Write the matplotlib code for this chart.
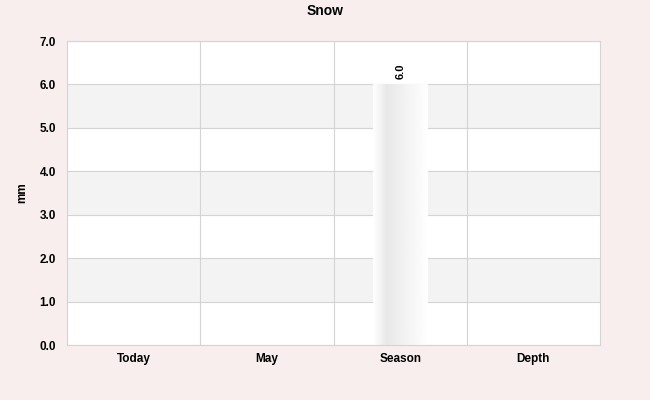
import numpy as np
import matplotlib
matplotlib.use("Agg")
import matplotlib.pyplot as plt

plt.rcParams["font.family"] = ["Liberation Sans", "DejaVu Sans"]

categories = ["Today", "May", "Season", "Depth"]
values = [0.0, 0.0, 6.0, 0.0]
y_ticks = [0.0, 1.0, 2.0, 3.0, 4.0, 5.0, 6.0, 7.0]

bg = "#f7eeed"
grid_c = "#d4d4d4"
band_c = "#f3f3f3"

fig = plt.figure(figsize=(6.5, 4.0), dpi=100, facecolor=bg)
ax = fig.add_axes([67 / 650, 55 / 400, 533 / 650, 304 / 400])
ax.set_facecolor("white")

x = np.arange(len(categories))

# alternating bands
for i in range(len(y_ticks) - 1):
    if i % 2 == 1:
        ax.axhspan(y_ticks[i], y_ticks[i + 1], color=band_c, zorder=0, lw=0)
for yv in y_ticks:
    ax.axhline(yv, color=grid_c, lw=0.8, zorder=1)
for xv in x[:-1] + 0.5:
    ax.axvline(xv, color=grid_c, lw=0.8, zorder=1)

# bars with horizontal gradient fill
width = 0.41
bars = ax.bar(x, values, width=width, color="none", edgecolor="none", zorder=2)
pos = np.linspace(0, 1, 200)
shade = np.interp(pos, [0, 0.25, 1], [1.0, 0.91, 1.0])
grad = np.tile(shade, (2, 1))
for b, v in zip(bars, values):
    if v <= 0:
        continue
    im = ax.imshow(grad, cmap="gray", vmin=0, vmax=1, aspect="auto",
                   extent=(b.get_x(), b.get_x() + b.get_width(), 0, v),
                   zorder=2, interpolation="bilinear")
    im.set_clip_path(b)
    ax.annotate(f"{v:.1f}", (b.get_x() + b.get_width() / 2, v),
                xytext=(0, 4), textcoords="offset points", rotation=90,
                ha="center", va="bottom", fontsize=8, fontweight="bold")
ax.set_xlim(-0.5, len(categories) - 0.5)
ax.set_ylim(y_ticks[0], y_ticks[-1])

ax.set_xticks(x)
ax.set_xticklabels(categories, fontsize=8.5, fontweight="bold")
ax.set_yticks(y_ticks)
ax.set_yticklabels([f"{t:.1f}" for t in y_ticks], fontsize=8.5, fontweight="bold")
ax.tick_params(axis="y", length=0, pad=8)
ax.tick_params(axis="x", length=0, pad=5.5)
for s in ax.spines.values():
    s.set_color(grid_c)
    s.set_linewidth(0.8)

fig.text(22 / 650, 1 - 193 / 400, "mm", rotation=90, ha="center", va="center",
         fontsize=8.5, fontweight="bold")
fig.text(0.5, 1 - 11 / 400, "Snow", ha="center", va="center",
         fontsize=10, fontweight="bold")

fig.savefig("out.png", dpi=100, facecolor=bg)
